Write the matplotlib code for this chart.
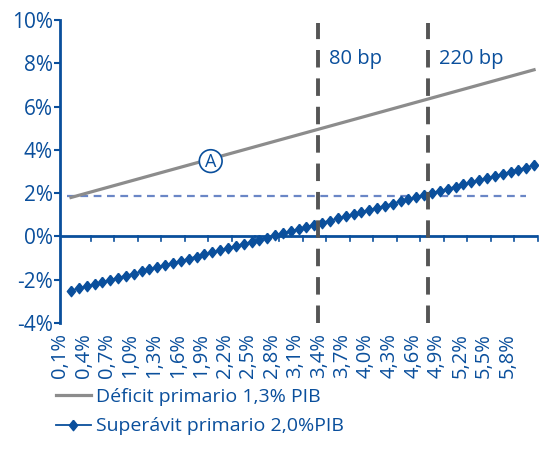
#!/usr/bin/env python3

import matplotlib
matplotlib.use("Agg")
import matplotlib.pyplot as plt
from matplotlib.patches import Ellipse


# tasa (%) 0,1 .. 6,0
rates = [round(0.1 * (i + 1), 1) for i in range(60)]

deficit = [1.8, 1.9, 2.0, 2.1, 2.2, 2.3, 2.4, 2.5, 2.6, 2.7,
           2.8, 2.9, 3.0, 3.1, 3.2, 3.3, 3.4, 3.5, 3.6, 3.7,
           3.8, 3.9, 4.0, 4.1, 4.2, 4.3, 4.4, 4.5, 4.6, 4.7,
           4.8, 4.9, 5.0, 5.1, 5.2, 5.3, 5.4, 5.5, 5.6, 5.7,
           5.8, 5.9, 6.0, 6.1, 6.2, 6.3, 6.4, 6.5, 6.6, 6.7,
           6.8, 6.9, 7.0, 7.1, 7.2, 7.3, 7.4, 7.5, 7.6, 7.7]

superavit = [-2.50, -2.40, -2.30, -2.21, -2.11, -2.01, -1.91, -1.81, -1.72, -1.62,
             -1.52, -1.42, -1.32, -1.23, -1.13, -1.03, -0.93, -0.83, -0.74, -0.64,
             -0.54, -0.44, -0.34, -0.25, -0.15, -0.05, 0.05, 0.15, 0.24, 0.34,
             0.44, 0.54, 0.64, 0.73, 0.83, 0.93, 1.03, 1.13, 1.22, 1.32,
             1.42, 1.52, 1.62, 1.71, 1.81, 1.91, 2.01, 2.11, 2.20, 2.30,
             2.40, 2.50, 2.60, 2.69, 2.79, 2.89, 2.99, 3.09, 3.18, 3.30]

ref_level = 1.85
markers_bp = [(31.5, "80 bp"), (45.5, "220 bp")]

BLUE = "#0a4f9c"
GRAY = "#8c8c8c"

plt.rcParams["font.family"] = ["Open Sans", "DejaVu Sans"]

fig = plt.figure(figsize=(5.48, 4.5), dpi=100)
ax = fig.add_axes([60 / 548, 1 - 323 / 450, 478 / 548, 303 / 450])

diamond = [(0, 1), (0.8, 0), (0, -1), (-0.8, 0), (0, 1)]

x = list(range(len(rates)))
ax.plot(x, deficit, color=GRAY, lw=2.3, label="Déficit primario 1,3% PIB", zorder=3)
ax.plot(x, superavit, color=BLUE, lw=1.3, marker=diamond, ms=7.5,
        label="Superávit primario 2,0%PIB", zorder=4)

ax.plot([-0.5, 58], [ref_level, ref_level], color="#6a86c6", lw=1.6,
        ls=(0, (3.5, 2.5)), zorder=2)

for xp, txt in markers_bp:
    ax.plot([xp, xp], [-4, 9.85], color="#555555", lw=2.8,
            ls=(0, (4.5, 2.8)), zorder=5)
    ax.text(xp + 1.4, 8.2, txt, color=BLUE, fontsize=14.5, va="center", ha="left")

# etiqueta A
ax.add_patch(Ellipse((17.8, 3.48), 2.9, 1.05, facecolor="white",
                     edgecolor=BLUE, lw=1.2, zorder=6))
ax.text(17.8, 3.46, "A", color=BLUE, fontsize=13, ha="center", va="center", zorder=7)

ax.set_xlim(-0.5, 59.5)
ax.set_ylim(-4, 10)
ax.set_yticks(range(-4, 11, 2))
ax.set_yticklabels(["%d%%" % v for v in range(-4, 11, 2)])

for s in ["top", "right", "bottom"]:
    ax.spines[s].set_visible(False)
ax.spines["left"].set_color(BLUE)
ax.spines["left"].set_linewidth(2)
ax.axhline(0, color=BLUE, lw=2, zorder=3)

ax.tick_params(axis="y", colors=BLUE, labelsize=15, length=4, width=1.5, pad=1)

# marcas cada 3 categorias sobre el eje 0, etiquetas abajo
ax.set_xticks([i - 0.5 for i in range(3, 61, 3)])
ax.set_xticklabels([])
ax.tick_params(axis="x", which="major", length=0)
for t in [i - 0.5 for i in range(3, 61, 3)]:
    ax.plot([t, t], [0, -0.2], color=BLUE, lw=1.2, zorder=3, clip_on=False)

lab_pos = [i - 1.4 for i in range(0, 60, 3)]
ax.set_xticks(lab_pos, minor=True)
ax.set_xticklabels([("%.1f%%" % rates[i]).replace(".", ",") for i in range(0, 60, 3)],
                   minor=True, rotation=90)
ax.tick_params(axis="x", which="minor", length=0, colors=BLUE, labelsize=14.5, pad=7)

fig.legend(loc="upper left", bbox_to_anchor=(48 / 548, 1 - 380 / 450),
           frameon=False, fontsize=14, handlelength=1.8, handletextpad=0.25,
           labelspacing=0.6, labelcolor=BLUE, borderaxespad=0)

fig.savefig("out.png", dpi=100)
